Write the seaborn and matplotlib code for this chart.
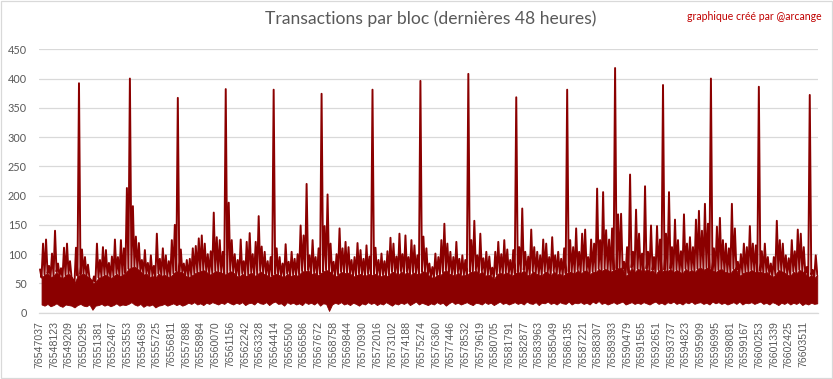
import numpy as np
import pandas as pd
import matplotlib
matplotlib.use("Agg")
import matplotlib.pyplot as plt
from matplotlib.patches import Rectangle
import seaborn as sns

# ---------------- data ----------------
tick_labels = [
    "76547037", "76548123", "76549209", "76550295", "76551381", "76552467",
    "76553553", "76554639", "76555725", "76556811", "76557898", "76558984",
    "76560070", "76561156", "76562242", "76563328", "76564414", "76565500",
    "76566586", "76567672", "76568758", "76569844", "76570930", "76572016",
    "76573102", "76574188", "76575274", "76576360", "76577446", "76578532",
    "76579619", "76580705", "76581791", "76582877", "76583963", "76585049",
    "76586135", "76587221", "76588307", "76589393", "76590479", "76591565",
    "76592651", "76593737", "76594823", "76595909", "76596995", "76598081",
    "76599167", "76600253", "76601339", "76602425", "76603511",
]
first_block = 76547037
block_span = 57550          # blocks covered by the 48 hours

# peak transactions per small group of blocks (upper envelope)
peaks = [
    74, 118, 125, 80, 101, 140, 84, 76, 111, 118,
    88, 56, 111, 392, 108, 95, 82, 56, 62, 118,
    90, 112, 107, 85, 96, 125, 95, 124, 110, 213,
    400, 182, 130, 119, 90, 107, 85, 98, 80, 135,
    92, 110, 98, 88, 124, 150, 367, 108, 84, 90,
    92, 110, 114, 127, 132, 118, 100, 105, 171, 129,
    124, 104, 382, 188, 124, 100, 90, 125, 88, 121,
    136, 100, 121, 165, 113, 104, 88, 95, 381, 110,
    95, 84, 117, 87, 104, 92, 100, 149, 132, 220,
    98, 124, 95, 110, 374, 148, 202, 118, 87, 100,
    144, 110, 121, 112, 90, 95, 119, 107, 92, 115,
    96, 381, 111, 90, 101, 88, 105, 128, 118, 96,
    135, 100, 132, 95, 124, 115, 98, 396, 130, 110,
    84, 78, 101, 95, 124, 152, 118, 104, 95, 121,
    92, 98, 90, 408, 124, 157, 98, 135, 93, 104,
    96, 77, 104, 121, 100, 124, 108, 90, 107, 368,
    112, 178, 104, 96, 142, 112, 104, 98, 125, 118,
    95, 129, 98, 104, 92, 110, 381, 124, 112, 144,
    104, 135, 142, 95, 125, 118, 212, 124, 206, 141,
    125, 144, 418, 168, 169, 87, 112, 236, 104, 176,
    135, 101, 216, 104, 149, 95, 148, 125, 389, 135,
    206, 112, 159, 124, 105, 168, 118, 129, 112, 159,
    174, 140, 186, 152, 400, 110, 147, 162, 124, 118,
    110, 186, 144, 87, 100, 118, 112, 148, 118, 115,
    386, 105, 118, 95, 84, 95, 157, 124, 118, 98,
    93, 124, 105, 142, 135, 112, 78, 372, 73, 98,
]

# typical level (top of the solid band)
mids = [
    60, 65, 67, 61, 63, 70, 62, 59, 64, 67,
    61, 50, 63, 65, 67, 63, 59, 50, 52, 60,
    61, 65, 63, 59, 62, 67, 62, 65, 67, 75,
    77, 79, 75, 71, 65, 67, 61, 63, 59, 67,
    63, 65, 62, 61, 67, 71, 70, 69, 63, 61,
    63, 67, 69, 71, 73, 70, 65, 67, 71, 70,
    69, 65, 67, 71, 69, 63, 61, 67, 62, 65,
    69, 63, 65, 71, 67, 65, 61, 63, 67, 65,
    63, 60, 67, 62, 65, 63, 65, 71, 70, 73,
    65, 69, 63, 67, 70, 73, 71, 67, 61, 65,
    70, 67, 69, 67, 62, 63, 67, 65, 62, 67,
    63, 67, 65, 61, 65, 62, 65, 70, 69, 63,
    71, 65, 70, 63, 69, 67, 65, 70, 71, 65,
    61, 59, 65, 63, 69, 73, 67, 65, 63, 69,
    63, 65, 63, 70, 69, 73, 65, 71, 63, 65,
    63, 57, 65, 69, 65, 69, 67, 63, 67, 70,
    67, 73, 65, 63, 71, 67, 65, 63, 70, 69,
    63, 71, 65, 67, 63, 67, 70, 69, 67, 73,
    67, 71, 73, 65, 70, 69, 75, 71, 75, 73,
    70, 73, 75, 77, 75, 63, 67, 77, 69, 75,
    73, 69, 75, 70, 73, 65, 73, 70, 73, 71,
    75, 69, 73, 70, 67, 75, 70, 73, 69, 75,
    77, 73, 77, 75, 73, 69, 73, 75, 70, 69,
    67, 75, 73, 63, 67, 70, 69, 73, 70, 69,
    71, 67, 70, 65, 61, 65, 73, 71, 69, 65,
    63, 70, 67, 73, 71, 67, 60, 65, 59, 65,
]

# lowest transactions per group of blocks (lower envelope)
lows = [
    14, 12, 15, 11, 13, 16, 12, 10, 14, 13,
    12, 9, 13, 15, 12, 11, 14, 5, 12, 13,
    15, 12, 14, 11, 13, 16, 12, 14, 13, 15,
    18, 14, 12, 15, 10, 13, 12, 14, 9, 12,
    13, 15, 12, 14, 16, 13, 15, 12, 14, 17,
    15, 18, 14, 16, 13, 17, 15, 18, 16, 14,
    17, 15, 19, 16, 14, 17, 15, 18, 13, 16,
    17, 14, 19, 16, 15, 18, 13, 17, 19, 15,
    16, 12, 18, 15, 17, 14, 16, 13, 18, 15,
    17, 14, 18, 12, 16, 15, 3, 14, 17, 15,
    18, 14, 16, 13, 17, 15, 12, 16, 14, 18,
    15, 17, 13, 16, 14, 18, 15, 12, 16, 14,
    17, 15, 18, 13, 16, 19, 14, 17, 15, 13,
    16, 14, 18, 15, 17, 12, 16, 19, 15, 17,
    14, 16, 18, 15, 13, 17, 16, 14, 18, 15,
    17, 13, 16, 19, 15, 17, 14, 16, 18, 15,
    17, 14, 19, 16, 15, 18, 13, 17, 16, 19,
    15, 17, 14, 18, 16, 15, 19, 14, 17, 16,
    18, 15, 17, 14, 19, 16, 20, 15, 17, 14,
    16, 18, 15, 17, 19, 14, 16, 18, 15, 17,
    15, 18, 16, 14, 17, 19, 15, 17, 14, 18,
    16, 19, 15, 17, 14, 18, 16, 19, 15, 17,
    18, 15, 17, 14, 19, 16, 18, 15, 17, 14,
    16, 18, 15, 19, 14, 17, 16, 18, 15, 17,
    19, 15, 17, 14, 18, 16, 13, 17, 15, 18,
    14, 17, 15, 18, 13, 16, 14, 17, 15, 16,
]

y_ticks = [0, 50, 100, 150, 200, 250, 300, 350, 400, 450]

title = "Transactions par bloc (dernières 48 heures)"
credit = "graphique créé par @arcange"

# ---------------- styling ----------------
RED = "#8B0000"
GREY_TXT = "#595959"
GRID = "#D9D9D9"

sns.set_theme(style="white")
plt.rcParams["font.family"] = ["Lato", "DejaVu Sans"]

W, H = 833, 379
fig = plt.figure(figsize=(W / 100, H / 100), dpi=100)
ax = fig.add_axes([39.3 / W, 1 - 312.7 / H, (818 - 39.3) / W, (312.7 - 49.3) / H])

n = len(peaks)
step = block_span / n
pos = np.arange(n)
x_peak = first_block + (pos + 0.25) * step
x_mid = first_block + (pos + 0.75) * step

line_x = np.empty(2 * n)
line_y = np.empty(2 * n)
line_x[0::2] = x_peak
line_x[1::2] = x_mid
line_y[0::2] = peaks
line_y[1::2] = mids
df = pd.DataFrame({"bloc": line_x, "transactions": line_y})

ax.fill_between(x_mid, lows, mids, color=RED, lw=0.6, edgecolor=RED, zorder=2)
sns.lineplot(data=df, x="bloc", y="transactions", ax=ax, color=RED,
             linewidth=1.4, estimator=None, sort=False, zorder=3)

ax.set_xlim(first_block, first_block + block_span)
ax.set_ylim(0, 450)
ax.set_yticks(y_ticks)
ax.set_yticklabels([str(v) for v in y_ticks], fontsize=7.8, color=GREY_TXT)
ax.set_xticks([int(t) for t in tick_labels])
ax.set_xticklabels(tick_labels, rotation=90, fontsize=7.6, color=GREY_TXT,
                   family=["Liberation Sans", "DejaVu Sans"])
ax.tick_params(axis="x", length=0, pad=6)
ax.tick_params(axis="y", length=0, pad=9)
ax.set_xlabel("")
ax.set_ylabel("")

ax.yaxis.grid(True, color=GRID, lw=0.9)
ax.xaxis.grid(False)
ax.set_axisbelow(True)
for s in ["top", "right", "left"]:
    ax.spines[s].set_visible(False)
ax.spines["bottom"].set_color(GRID)
ax.spines["bottom"].set_linewidth(0.9)

fig.text(431 / W, 1 - 19 / H, title, ha="center", va="center",
         fontsize=12.6, color=GREY_TXT)
fig.text(822 / W, 1 - 17 / H, credit, ha="right", va="center",
         fontsize=7.6, color="#C00000")

fig.patches.append(Rectangle((0.6 / W, 0.6 / H), 1 - 1.8 / W, 1 - 1.8 / H,
                             transform=fig.transFigure, fill=False,
                             ec=GRID, lw=0.9))

fig.savefig("out.png", dpi=100)
